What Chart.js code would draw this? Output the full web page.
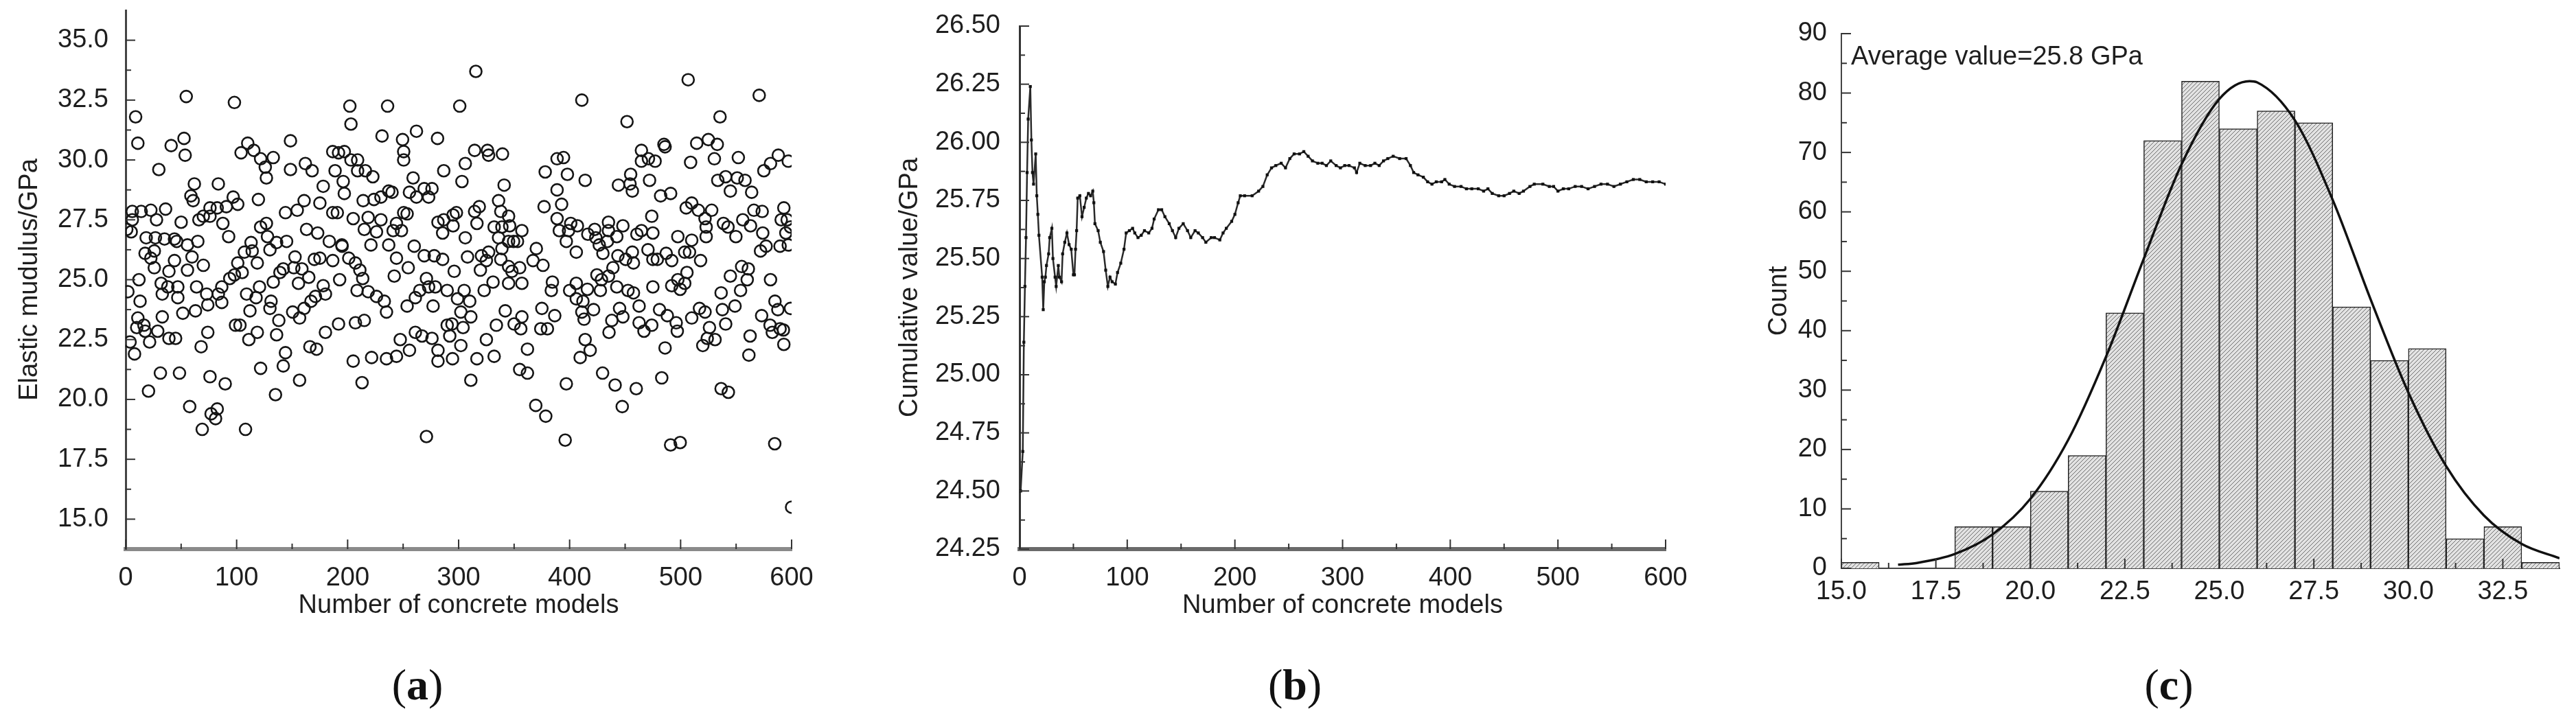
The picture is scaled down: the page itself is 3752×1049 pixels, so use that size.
<!DOCTYPE html>
<html lang="en">
<head>
<meta charset="UTF-8" />
<title>Elastic modulus of concrete models</title>
<script src="https://cdn.jsdelivr.net/npm/chart.js"></script>
<style>
  html, body { margin: 0; padding: 0; background: #fff; }
  body { width: 3752px; height: 1049px; position: relative; overflow: hidden; }
  .panel { position: absolute; top: 0; height: 1049px; }
  #panelA { left: 0; width: 1280px; }
  #panelB { left: 1280px; width: 1200px; }
  #panelC { left: 2480px; width: 1272px; }
  .cap { position: absolute; top: 961px; line-height: 74px; font-family: "Liberation Serif", serif;
         font-size: 64px; color: #111; transform: translateX(-50%); }
</style>
</head>
<body>
<div class="panel" id="panelA"><canvas id="chartA"></canvas></div>
<div class="panel" id="panelB"><canvas id="chartB"></canvas></div>
<div class="panel" id="panelC"><canvas id="chartC"></canvas></div>
<div class="cap" style="left:608px">(<b>a</b>)</div>
<div class="cap" style="left:1886px">(<b>b</b>)</div>
<div class="cap" style="left:3159px">(<b>c</b>)</div>

<script>
// (a) elastic modulus of each model: [model number, GPa]
const modulusPts = [
  [1,27.1],[6,27.85],[6,27.5],[5,27.0],[2,24.5],[9,31.8],[11,30.7],[4,22.4],[8,21.9],[12,25.0],
  [13,24.1],[11,23.4],[10,23.0],[14,27.85],[17.5,26.1],[20.6,20.35],[16.5,23.1],[17.5,22.85],[18.5,26.75],[21.6,22.4],
  [22.7,27.9],[27.8,27.5],[22.7,25.9],[25.8,26.2],[26.8,26.75],[25.8,25.5],[29.9,29.6],[32,24.85],[33,24.4],[28.9,22.85],
  [33,23.45],[31.3,21.1],[36,27.95],[35,26.7],[39,25.35],[38,24.7],[39,22.55],[41,30.6],[44,26.7],[44,25.8],
  [45,22.55],[46,26.6],[47,24.7],[47,24.25],[48.5,21.1],[51.5,23.6],[50,27.4],[52.6,30.9],[53.6,30.2],[54.6,32.65],
  [55.7,26.45],[55.7,25.4],[57.7,19.7],[58.8,28.5],[61.9,29.0],[60.8,28.3],[59.8,25.95],[62.9,23.7],[63.9,24.7],[65,26.6],
  [66,27.5],[68,22.2],[69,18.75],[70,25.6],[70,27.65],[76,27.65],[76,28.0],[73,24.4],[74,23.95],[74,22.8],
  [76,20.95],[77,19.4],[81,19.2],[82.5,19.6],[82.5,28.0],[83.5,29.0],[83.5,24.4],[86.6,24.7],[86.6,24.05],[87.6,27.35],
  [89.7,20.65],[90.7,28.05],[92.8,26.8],[93.8,25.05],[96.9,28.45],[101,28.15],[98,25.2],[101,25.7],[98,32.4],[99,23.1],
  [103,23.1],[104,30.3],[105,25.3],[108,18.75],[107,26.15],[109,24.4],[111,22.5],[110,30.7],[112,23.7],[113,26.55],
  [114,26.2],[115.5,30.4],[117.5,24.25],[118.6,25.7],[118.6,22.8],[119.6,28.35],[120.6,24.7],[121.6,21.3],[121.6,30.05],[125.8,29.7],
  [126.8,29.25],[121.6,27.2],[126.8,27.35],[127.8,26.8],[130,26.25],[131,24.1],[130,23.8],[133,30.1],[133,24.9],[135,20.2],
  [136,26.55],[138,23.3],[136,22.7],[139,25.3],[142,25.45],[142,21.4],[144,21.95],[144,27.8],[145,26.6],[148.5,30.8],
  [148.5,29.6],[150.5,23.65],[152.6,25.95],[151.5,25.5],[154.6,27.9],[160.8,28.3],[155.7,24.85],[156.7,23.4],[156.7,20.8],[158.8,25.45],
  [160.8,23.8],[161.9,29.85],[168,29.55],[163,27.1],[165,25.1],[166,22.2],[172,22.1],[167,24.1],[171,24.3],[173,26.95],
  [170,25.85],[175,25.9],[175,28.2],[178,28.9],[178,24.75],[180,24.4],[180,22.8],[183.5,26.6],[186.6,25.8],[186.6,27.8],
  [190.7,27.8],[186.6,30.35],[191.8,30.3],[188.7,29.55],[191.8,23.15],[192.8,25.0],[194.8,26.45],
  [202,32.25],[203,31.5],[197,30.35],[203,30.0],[209,30.0],[196,29.1],[197,28.6],[209,29.55],[216,29.55],[222.7,29.3],
  [214,28.3],[223.7,28.35],[230,28.45],[237,28.7],[240,28.65],[231,31.0],[236,32.25],[205,27.55],[218.5,27.6],[215,27.1],
  [226,27.0],[230,27.5],[221,26.45],[237,26.45],[195,26.4],[201,25.9],[207,25.7],[211,25.4],[213.6,25.05],[208.5,24.55],
  [218.5,24.5],[226,24.3],[233,24.1],[235,23.65],[207,23.2],[215,23.3],[205,21.6],[213,20.7],[221.6,21.75],[235,21.7],
  [244,21.8],[247.4,22.5],[255.7,22.05],[242,25.15],[244,25.9],[254.6,25.5],[260,26.4],[253.6,23.9],[250.5,27.8],[253.6,27.75],
  [244,27.35],[248.5,27.05],[241,27.05],[249.5,30.85],[250.5,30.35],[250.5,30.0],[262,31.2],[259,29.25],[255.7,28.65],[262,28.45],
  [269,28.8],[276,28.8],[273,28.45],[269,26.0],[278,26.0],[285.6,25.85],[261,24.25],[265,24.55],[271,25.05],[273,24.7],
  [279,24.7],[277,23.9],[261,22.8],[267,22.65],[276,22.55],[271,18.45],[281,30.9],[286.6,29.55],[281.4,27.4],[286.6,27.5],
  [295,27.7],[298,27.8],[285.6,26.95],[295,27.25],[281.4,22.05],[281.4,21.6],[289.7,24.55],[289.7,23.1],[294,23.15],[292,22.65],
  [294.5,21.7],[296,25.35],[301,32.25],[303,29.1],[306,29.85],[306,26.75],[299,24.2],[302,23.65],[305,24.55],[310,24.1],
  [311,23.45],[302,22.25],[304,23.0],[308,25.95],[311,20.8],[314.4,30.4],[315.5,33.7],[314.4,27.85],[318.6,28.05],[316.5,27.35],
  [316.5,21.7],[320.6,26.0],[319.6,25.4],[325,25.8],[327,26.15],[323,24.55],[331,24.9],[325,22.5],[326,30.4],[327,30.2],
  [332,21.8],[334,23.1],[336,28.3],[338,27.85],[332,27.2],[336,26.75],[339,27.2],[345,27.65],[346,27.25],[339.5,30.25],
  [341,28.95],[342,23.7],[339,26.3],[338,25.85],[345,26.6],[349.5,26.6],[345,25.55],[348,25.35],[353,26.6],[355,25.5],
  [357,27.05],[345,24.85],[350,23.15],[357,24.85],[357,23.45],[356,22.95],[362,22.1],[355,21.25],[362,21.1],[369.5,19.75],
  [378.5,19.3],[370,26.3],[376,25.6],[367,25.8],[378,29.5],[377,28.05],[384.5,24.9],[383.5,24.55],[375,23.8],[374,22.95],
  [380,22.95],[386.6,23.5],[388.7,28.75],[388.7,30.05],[388.7,27.55],[390.7,27.05],
  [394.5,30.1],[398,29.4],[392.8,28.15],[397,26.6],[399,27.05],[401,27.35],[406,26.15],[407,27.25],[416.4,26.9],[422.6,27.1],
  [423.6,26.75],[426.7,26.45],[430,26.1],[435,27.4],[435,27.05],[434,26.6],[442.5,26.8],[448,27.25],[411,32.5],[414,29.15],
  [400,24.55],[406,24.85],[406,24.2],[412,24.1],[416,24.6],[411,23.65],[413,23.35],[421.6,23.75],[397,20.65],[396,18.3],
  [414,22.5],[409.5,21.75],[418.5,22.05],[424.6,25.2],[428.7,25.0],[435,25.15],[439,25.5],[427.7,24.55],[442.5,24.7],[452.6,24.55],
  [457.5,24.45],[429.7,21.1],[441,20.6],[447.4,19.7],[460,20.45],[435.5,22.8],[438,23.3],[445,23.8],[448,23.45],[451.7,31.6],
  [444,28.95],[454.4,29.0],[456.5,28.7],[455,29.4],[443.5,26.0],[450.5,25.85],[457.5,25.7],[456.5,26.15],[462.6,23.9],[462.6,23.2],
  [467,22.85],[474,23.1],[460.6,26.9],[464.7,27.05],[464.7,29.95],[471,30.05],[464.7,30.4],[477,29.95],[472,29.15],[470.6,26.25],
  [474,27.65],[475,26.95],[475,25.85],[479,25.85],[487,26.1],[492,25.8],[475,24.7],[481,23.75],[488,23.5],[496,23.2],
  [497,22.85],[483,20.9],[485,30.65],[486,30.55],[482,28.5],[491,28.6],[486,22.15],[492,24.75],[497.5,25.0],[499.6,24.6],
  [503.7,24.85],[505.7,25.3],[491,18.1],[499.6,18.2],[506.8,33.35],[497.5,26.8],[503.7,26.15],[510,26.65],[508,26.15],[518,25.8],
  [505,28.0],[510,28.2],[516,27.9],[522,27.55],[528,27.9],[509,29.9],[514.5,30.7],[523,27.2],[523,26.8],[510,23.4],
  [517,23.8],[522,23.65],[526,23.0],[531,22.5],[524,22.55],[520,22.25],[525,30.85],[533,30.65],[530.4,30.05],[535.5,31.8],
  [533.5,29.15],[540.6,29.3],[544.8,28.7],[551,29.25],[558,29.15],[564,28.65],[538.6,27.35],[542.7,27.2],[549.8,26.8],[556,27.5],
  [563,27.25],[566,27.9],[573.5,27.85],[536.5,24.45],[544.8,25.15],[554,24.55],[555,25.55],[560,25.0],[561,25.45],[537.6,23.75],
  [540.6,23.15],[536.5,20.45],[543,20.3],[549,23.9],[552,30.1],[562.6,22.65],[561.5,21.85],[570.8,32.7],[572,26.2],[577,26.4],
  [574,26.95],[575,29.55],[581,29.85],[588,30.2],[581,25.0],[573,23.5],[580.6,23.1],[585,24.1],[587.6,23.75],[589.6,22.95],
  [582.6,22.8],[584.8,18.15],[590.6,27.5],[589.6,26.4],[597,29.95],[593,28.0],[596,27.5],[599,27.2],[594.8,26.95],[597,26.45],
  [599,23.8],[592.6,22.9],[593,22.3],[600,15.5]
];

// (b) cumulative average
const cumModel = [
  1,3,4,5,6,7,8,10,11,12,13,15,16,17,18,21,22,23,24,25,27,28,30,31,33,34,36,37,39,40,
  42,44,46,48,50,51,52,53,54,56,58,60,62,64,66,68,69,70,73,75,78,80,82,84,86,89,91,94,97,99,
  102,105,107,110,113,116,120,123,125,129,132,135,139,142,145,148,152,156,159,163,166,170,173,178,181,186,189,192,197,200,
  203,205,209,216,222,226,230,234,238,243,247,251,255,260,264,268,272,277,281,285,289,294,298,302,306,311,313,316,321,326,
  330,334,338,342,347,353,359,363,366,370,375,379,383,387,392,395,399,404,410,415,420,426,431,435,439,445,450,455,459,464,
  468,474,478,486,492,496,500,505,510,516,522,528,534,540,546,552,558,564,570,576,582,588,594,600
];
const cumValue = [
  24.5,24.67,25.14,25.38,25.59,25.87,26.1,26.24,26.01,25.87,25.82,25.95,25.77,25.69,25.6,25.42,25.28,25.4,25.42,25.47,25.52,25.59,25.63,25.5,25.42,25.38,25.47,25.42,25.4,25.52,
  25.57,25.61,25.56,25.54,25.43,25.43,25.54,25.62,25.76,25.77,25.68,25.72,25.76,25.78,25.77,25.79,25.74,25.65,25.62,25.57,25.53,25.45,25.38,25.42,25.4,25.39,25.44,25.48,25.54,25.61,
  25.62,25.63,25.61,25.59,25.6,25.62,25.61,25.63,25.67,25.71,25.71,25.68,25.65,25.62,25.59,25.63,25.65,25.62,25.59,25.62,25.61,25.59,25.57,25.59,25.59,25.58,25.61,25.63,25.66,25.69,
  25.74,25.77,25.77,25.77,25.79,25.81,25.86,25.89,25.9,25.91,25.89,25.93,25.95,25.95,25.96,25.94,25.92,25.91,25.91,25.9,25.92,25.9,25.89,25.9,25.9,25.89,25.87,25.91,25.9,25.9,
  25.91,25.9,25.92,25.93,25.94,25.93,25.93,25.9,25.87,25.86,25.85,25.83,25.82,25.83,25.83,25.84,25.82,25.81,25.81,25.8,25.8,25.8,25.79,25.8,25.78,25.77,25.77,25.78,25.79,25.78,
  25.79,25.81,25.82,25.82,25.81,25.81,25.79,25.8,25.8,25.81,25.81,25.8,25.81,25.82,25.82,25.81,25.82,25.83,25.84,25.84,25.83,25.83,25.83,25.82
];

// (c) histogram, bins of 1 GPa starting at binStart
const binStart = [15,16,17,18,19,20,21,22,23,24,25,26,27,28,29,30,31,32,33];
const binCount = [1,0,0,7,7,13,19,43,72,82,74,77,75,44,35,37,5,7,1];
// normal fit curve
const fitX = [16.5,17,18,19,20,21,22,23,24,25,25.8,26,27,28,29,30,31,32,33,34];
const fitY = [0.6,0.9,2.4,5.7,11.7,21.6,35.6,52.1,68.0,79.0,82.0,81.8,75.4,62.0,45.3,29.6,17.2,8.9,4.1,1.7];

// tick values
const aXTicks = [0,100,200,300,400,500,600];
const aYTicks = [15,17.5,20,22.5,25,27.5,30,32.5,35];
const bYTicks = [24.25,24.5,24.75,25,25.25,25.5,25.75,26,26.25,26.5];
const cXTicks = [15,17.5,20,22.5,25,27.5,30,32.5];
const cYTicks = [0,10,20,30,40,50,60,70,80,90];

Chart.defaults.font.family = '"Liberation Sans", Arial, sans-serif';
Chart.defaults.font.size = 38;
Chart.defaults.color = '#1e1e1e';
Chart.defaults.animation = false;
Chart.defaults.plugins.legend.display = false;
Chart.defaults.plugins.tooltip.enabled = false;

const mids = t => t.slice(1).map((v, i) => (v + t[i]) / 2);

function axis(o) {
  return {
    type: 'linear', min: o.min, max: o.max, offset: false,
    grid: { display: false },
    border: { display: true, color: o.lineColor, width: o.lineWidth },
    ticks: { padding: o.pad, autoSkip: false, maxRotation: 0, callback: o.fmt },
    title: o.title
      ? { display: true, text: o.title, padding: o.titlePad }
      : { display: false },
    afterBuildTicks: s => { s.ticks = o.ticks.map(v => ({ value: v })); },
    afterFit: s => {
      if (s.isHorizontal()) s.height = o.size; else s.width = o.size;
      s.paddingLeft = s.paddingRight = s.paddingTop = s.paddingBottom = 0;
    }
  };
}

// ticks pointing into the plot, as in the original
function inwardTicks(spec) {
  return {
    id: 'inwardTicks',
    afterDatasetsDraw(chart) {
      const ctx = chart.ctx, area = chart.chartArea;
      ctx.save();
      ctx.strokeStyle = '#333';
      ctx.lineWidth = 2;
      for (const id of Object.keys(spec)) {
        const scale = chart.scales[id];
        const marks = spec[id].major.map(v => [v, 14]).concat(spec[id].minor.map(v => [v, 8]));
        for (const [v, len] of marks) {
          const p = scale.getPixelForValue(v);
          ctx.beginPath();
          if (scale.isHorizontal()) { ctx.moveTo(p, area.bottom); ctx.lineTo(p, area.bottom - len); }
          else { ctx.moveTo(area.left, p); ctx.lineTo(area.left + len, p); }
          ctx.stroke();
        }
      }
      ctx.restore();
    }
  };
}

function hatch() {
  const c = document.createElement('canvas');
  c.width = c.height = 6;
  const g = c.getContext('2d');
  g.fillStyle = '#e2e2e2';
  g.fillRect(0, 0, 6, 6);
  g.strokeStyle = '#6e6e6e';
  g.lineWidth = 1;
  g.beginPath();
  g.moveTo(0, 6); g.lineTo(6, 0);
  g.moveTo(-1, 1); g.lineTo(1, -1);
  g.moveTo(5, 7); g.lineTo(7, 5);
  g.stroke();
  return g.createPattern(c, 'repeat');
}

// (a)
new Chart(document.getElementById('chartA'), {
  type: 'scatter',
  data: {
    datasets: [{
      data: modulusPts.map(p => ({ x: p[0], y: p[1] })),
      pointRadius: 8.5,
      pointBorderWidth: 2.6,
      borderColor: '#151515',
      backgroundColor: 'rgba(0,0,0,0)'
    }]
  },
  options: {
    responsive: true, maintainAspectRatio: false, devicePixelRatio: 1,
    layout: { padding: { left: 0, top: 15, right: 127, bottom: 0 } },
    scales: {
      x: axis({ min: 0, max: 600, ticks: aXTicks, size: 249, pad: 12, lineColor: '#8a8a8a', lineWidth: 6,
                fmt: v => String(v), title: 'Number of concrete models', titlePad: { top: 0, bottom: 144 } }),
      y: axis({ min: 13.75, max: 36.25, ticks: aYTicks, size: 183, pad: 17, lineColor: '#444', lineWidth: 3,
                fmt: v => v.toFixed(1), title: 'Elastic mudulus/GPa', titlePad: { top: 21, bottom: 0 } })
    }
  },
  plugins: [inwardTicks({
    x: { major: aXTicks, minor: mids(aXTicks) },
    y: { major: aYTicks, minor: mids(aYTicks) }
  })]
});

// (b)
new Chart(document.getElementById('chartB'), {
  type: 'scatter',
  data: {
    datasets: [{
      data: cumModel.map((m, i) => ({ x: m, y: cumValue[i] })),
      showLine: true,
      borderColor: '#2a2a2a',
      borderWidth: 2.5,
      pointStyle: 'rect',
      pointRadius: 3,
      pointBorderWidth: 0,
      pointBackgroundColor: '#111'
    }]
  },
  options: {
    responsive: true, maintainAspectRatio: false, devicePixelRatio: 1,
    layout: { padding: { left: 0, top: 38, right: 54, bottom: 0 } },
    scales: {
      x: axis({ min: 0, max: 600, ticks: aXTicks, size: 249, pad: 12, lineColor: '#6a6a6a', lineWidth: 6,
                fmt: v => String(v), title: 'Number of concrete models', titlePad: { top: 0, bottom: 144 } }),
      y: axis({ min: 24.25, max: 26.5, ticks: bYTicks, size: 205, pad: 20, lineColor: '#333', lineWidth: 3,
                fmt: v => v.toFixed(2), title: 'Cumulative value/GPa', titlePad: { top: 23, bottom: 0 } })
    }
  },
  plugins: [inwardTicks({
    x: { major: aXTicks, minor: mids(aXTicks) },
    y: { major: bYTicks, minor: mids(bYTicks) }
  })]
});

// (c)
new Chart(document.getElementById('chartC'), {
  type: 'bar',
  data: {
    datasets: [
      {
        type: 'line',
        data: fitX.map((x, i) => ({ x: x, y: fitY[i] })),
        borderColor: '#111',
        borderWidth: 3.5,
        pointRadius: 0,
        cubicInterpolationMode: 'monotone',
        order: 0
      },
      {
        type: 'bar',
        data: binStart.map((b, i) => ({ x: b + 0.5, y: binCount[i] })),
        backgroundColor: hatch(),
        borderColor: '#222',
        borderWidth: 1.5,
        barPercentage: 1,
        categoryPercentage: 1,
        order: 1
      }
    ]
  },
  options: {
    responsive: true, maintainAspectRatio: false, devicePixelRatio: 1,
    layout: { padding: { left: 0, top: 49, right: 24, bottom: 0 } },
    scales: {
      x: axis({ min: 15, max: 34, ticks: cXTicks, size: 221, pad: 4, lineColor: '#444', lineWidth: 2,
                fmt: v => v.toFixed(1) }),
      y: axis({ min: 0, max: 90, ticks: cYTicks, size: 202, pad: 13, lineColor: '#444', lineWidth: 2,
                fmt: v => String(v), title: 'Count', titlePad: { top: 89, bottom: 0 } })
    }
  },
  plugins: [
    inwardTicks({
      x: { major: cXTicks, minor: mids(cXTicks) },
      y: { major: cYTicks, minor: mids(cYTicks) }
    }),
    {
      id: 'avgNote',
      afterDraw(chart) {
        const ctx = chart.ctx, area = chart.chartArea;
        ctx.save();
        ctx.font = '38px "Liberation Sans", Arial, sans-serif';
        ctx.fillStyle = '#1e1e1e';
        ctx.textBaseline = 'middle';
        ctx.fillText('Average value=25.8 GPa', area.left + 14, area.top + 35);
        ctx.restore();
      }
    }
  ]
});
</script>
</body>
</html>
